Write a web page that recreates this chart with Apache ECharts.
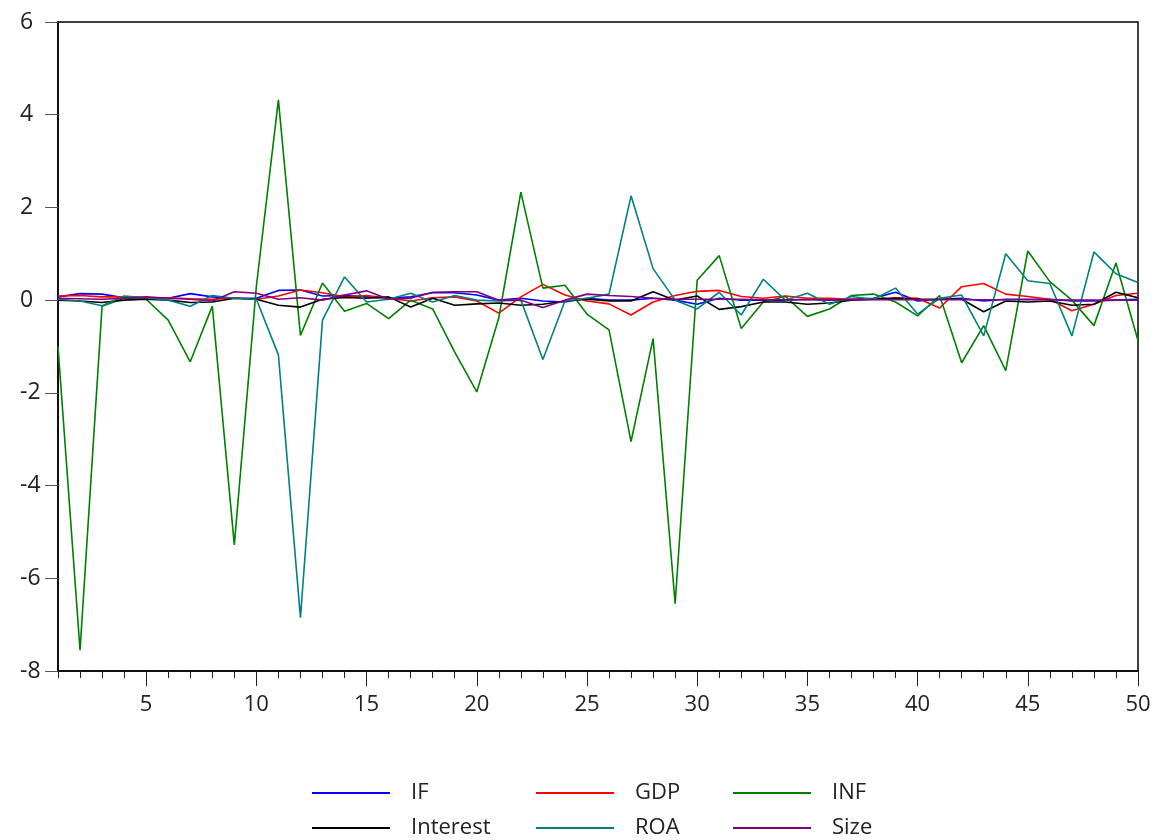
<!DOCTYPE html>
<html>
<head>
<meta charset="utf-8">
<script src="https://cdn.jsdelivr.net/npm/echarts@6/dist/echarts.min.js"></script>
<style>html,body{margin:0;padding:0;background:#fff}#c{width:1156px;height:840px}</style>
</head>
<body>
<div id="c"></div>
<script>
var categories = [];
for (var k = 1; k <= 50; k++) categories.push(String(k));

var IF = [0.07,0.14,0.13,0.05,0.05,0.04,0.14,0.07,0.04,0.04, 0.21,0.22,0.09,0.10,0.07,0.04,0.07,0.16,0.16,0.11, 0.00,0.04,-0.02,-0.04,0.04,0.00,0.00,0.04,0.00,-0.09, 0.04,0.00,0.00,0.00,0.02,0.00,0.02,0.04,0.17,-0.02, 0.02,0.04,-0.02,0.02,0.02,0.02,-0.02,-0.02,0.00,0.02];
var GDP = [0.09,0.10,0.07,0.07,0.05,0.05,0.03,0.02,0.04,0.02, 0.09,0.22,0.16,0.07,0.10,0.04,-0.02,0.05,0.07,-0.02, -0.28,0.07,0.34,0.11,-0.02,-0.08,-0.32,-0.04,0.10,0.19, 0.21,0.08,0.04,0.09,0.04,0.04,0.02,0.02,0.05,0.04, -0.17,0.29,0.36,0.13,0.08,0.02,-0.23,-0.09,0.10,0.15];
var INF = [-1.00,-7.55,-0.13,0.04,0.02,-0.43,-1.33,-0.13,-5.28,0.30, 4.32,-0.76,0.37,-0.24,-0.07,-0.40,0.00,-0.19,-1.12,-1.98, -0.38,2.33,0.26,0.32,-0.30,-0.64,-3.05,-0.83,-6.55,0.43, 0.96,-0.61,-0.04,0.08,-0.35,-0.19,0.10,0.13,-0.04,-0.34, 0.10,-1.35,-0.55,-1.52,1.06,0.40,0.00,-0.55,0.80,-0.87];
var Interest = [0.00,-0.02,-0.05,0.00,0.02,0.00,-0.05,-0.04,0.04,0.02, -0.11,-0.15,0.02,0.06,0.04,0.07,-0.15,0.04,-0.11,-0.08, -0.06,-0.11,-0.09,-0.02,0.02,-0.02,-0.02,0.18,0.00,0.09, -0.20,-0.14,-0.04,-0.04,-0.09,-0.06,0.00,0.02,0.04,0.02, 0.02,0.02,-0.25,-0.02,-0.04,-0.02,-0.11,-0.09,0.17,0.05];
var ROA = [0.02,-0.02,-0.12,0.09,0.05,0.00,-0.13,0.10,0.04,0.02, -1.18,-6.85,-0.43,0.50,-0.04,0.02,0.15,-0.04,0.10,0.00, -0.02,0.00,-1.28,-0.02,0.04,0.13,2.25,0.68,0.00,-0.19, 0.17,-0.32,0.45,0.00,0.15,-0.09,0.08,0.02,0.26,-0.30, 0.04,0.11,-0.77,1.00,0.42,0.36,-0.77,1.04,0.57,0.38];
var Size = [0.04,0.03,0.02,0.04,0.07,0.04,0.02,-0.02,0.18,0.15, 0.02,0.05,0.00,0.11,0.20,0.02,0.04,0.17,0.18,0.18, 0.00,0.00,-0.16,0.00,0.13,0.10,0.08,0.04,0.02,0.02, 0.02,0.02,0.01,0.01,0.01,0.01,0.01,0.01,0.01,0.01, 0.01,0.01,0.01,0.01,0.01,0.01,0.00,0.00,0.00,0.00];

var seriesNames = ['IF','GDP','INF','Interest','ROA','Size'];
var seriesData = [IF, GDP, INF, Interest, ROA, Size];
var seriesColors = ['#0000FF','#FF0000','#008000','#000000','#008080','#800080'];
var yTicks = {min: -8, max: 6, interval: 2};

var FONT = '"Open Sans", "Noto Sans", sans-serif';
var chart = echarts.init(document.getElementById('c'), null, {renderer: 'canvas'});

function legendFor(names, left) {
  return {
    orient: 'vertical', left: left, top: 780, height: 90, padding: 0,
    itemWidth: 78, itemHeight: 2, itemGap: 9,
    icon: 'rect',
    data: names,
    textStyle: {fontFamily: FONT, fontSize: 22, color: '#222', lineHeight: 26, padding: [0, 0, 0, 16]}
  };
}

var option = {
  animation: false,
  backgroundColor: '#fff',
  color: seriesColors,
  legend: [
    legendFor(['IF','Interest'], 312),
    legendFor(['GDP','ROA'], 536),
    legendFor(['INF','Size'], 733)
  ],
  grid: {left: 58, right: 18, top: 22, bottom: 169, show: true, borderColor: '#000', borderWidth: 1.5, containLabel: false},
  xAxis: [{
    type: 'category', data: categories, boundaryGap: false,
    axisLine: {onZero: false, lineStyle: {color: '#000', width: 1.5}},
    axisTick: {interval: 0, length: 7, lineStyle: {color: '#222'}},
    axisLabel: {
      interval: function (i, v) { return Number(v) % 5 === 0; },
      margin: 23, fontFamily: FONT, fontSize: 22, color: '#222'
    },
    splitLine: {show: false}
  }, {
    type: 'category', data: categories, boundaryGap: false, position: 'bottom',
    axisLine: {show: false, onZero: false},
    axisTick: {interval: function (i, v) { return Number(v) % 5 === 0; }, length: 15, lineStyle: {color: '#222'}},
    axisLabel: {show: false},
    splitLine: {show: false}
  }],
  yAxis: {
    type: 'value', min: yTicks.min, max: yTicks.max, interval: yTicks.interval,
    axisLine: {show: true, onZero: false, lineStyle: {color: '#000', width: 1.5}},
    axisTick: {show: true, length: 13, lineStyle: {color: '#555'}},
    axisLabel: {align: 'left', margin: 38, fontFamily: FONT, fontSize: 23, color: '#222', padding: [0, 0, 12, 0]},
    splitLine: {show: false}
  },
  series: seriesNames.map(function (n, i) {
    return {
      name: n, type: 'line', xAxisIndex: 0, data: seriesData[i],
      showSymbol: false, symbol: 'none',
      lineStyle: {color: seriesColors[i], width: 1.6},
      itemStyle: {color: seriesColors[i]}
    };
  })
};
chart.setOption(option);
</script>
</body>
</html>
